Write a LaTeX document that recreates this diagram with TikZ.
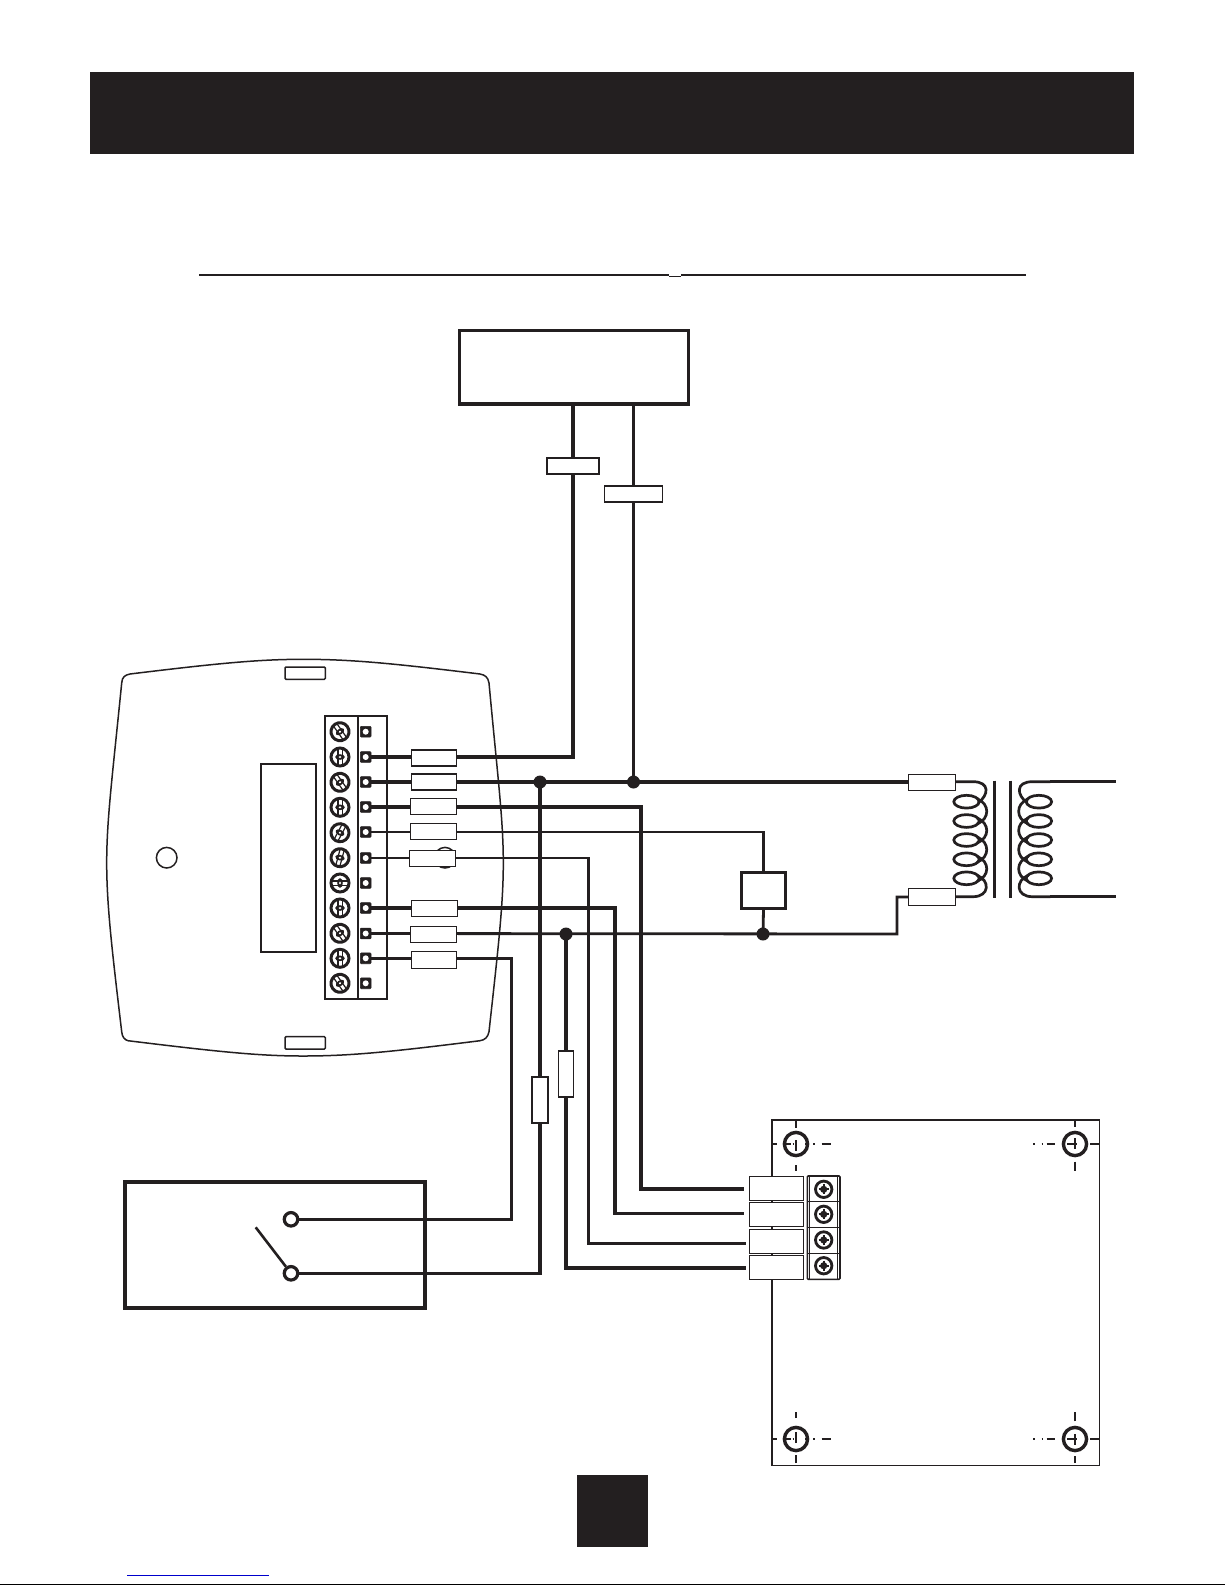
\documentclass[tikz,border=0pt]{standalone}
\definecolor{ink}{HTML}{231F20}
\pgfdeclarelayer{under}
\pgfsetlayers{under,main}
\tikzset{
  every path/.style={color=ink},
  tag/.style={draw=ink,fill=white,line width=1.3pt,inner sep=0pt,minimum width=#1},
  tag/.default=46pt,
  hwire/.style={draw=ink,line width=3.9pt},
  mwire/.style={draw=ink,line width=3.3pt},
  lwire/.style={draw=ink,line width=2.8pt},
  term/.style={rectangle,rounded corners=1pt,fill=ink,draw=ink,line width=0.6pt,minimum size=10.8pt,inner sep=0pt,
     path picture={\fill[white] (path picture bounding box.center) circle[radius=3pt];}},
  junc/.style={circle,fill=ink,inner sep=0pt,minimum size=13pt},
  contact/.style={circle,draw=ink,fill=white,line width=3.2pt,minimum size=13.5pt,inner sep=0pt},
  dashseg/.style={line width=1.7pt,draw=ink},
}
\begin{document}
\begin{tikzpicture}[x=1pt,y=-1pt]
\useasboundingbox (0,0) rectangle (1225,1585);
\begin{pgfonlayer}{under}
  \fill[white] (0,0) rectangle (1225,1585);
\end{pgfonlayer}
% header, rule, page box, footer
\fill[ink] (90,72) rectangle (1134,154);
\draw[ink,line width=2.4pt] (199,275) -- (669,275);
\draw[ink,line width=2.4pt] (681,275) -- (1026,275);
\draw[ink,line width=1pt] (669,276.8) -- (681,276.8);
\fill[ink] (576.5,1475) rectangle (648,1547);
\draw[blue!80!black,line width=1.4pt] (127,1575.3) -- (269,1575.3);
\draw[black,line width=1.6pt] (0,1584.3) -- (1225,1584.3);

% control box
\node[draw=ink,line width=3.8pt,minimum width=229pt,minimum height=73.5pt,inner sep=0pt] (ctl) at (574,367.3) {};
\node[tag=52pt,minimum height=16pt] (tA) at (573,466) {};
\node[tag=58pt,minimum height=16pt] (tB) at (633.5,494) {};

% thermostat base
\begin{pgfonlayer}{under}
\draw[ink,line width=1.5pt] (121.7,683) .. controls (122,677) and (125,675) .. (130,674)
  .. controls (220,663) and (260,659.3) .. (303,659.3)
  .. controls (350,659.3) and (390,663) .. (480,674)
  .. controls (485,675) and (488,677) .. (489,683)
  .. controls (498,780) and (503.3,820) .. (503.3,863)
  .. controls (503.3,905) and (498,950) .. (489,1031.7)
  .. controls (488,1037) and (485,1040) .. (480,1040.7)
  .. controls (390,1052) and (350,1056) .. (303,1056)
  .. controls (260,1056) and (220,1052) .. (128,1040.7)
  .. controls (125,1040) and (122,1037) .. (121.7,1031.7)
  .. controls (112,950) and (106.7,905) .. (106.7,863)
  .. controls (106.7,820) and (112,780) .. (121.7,683) -- cycle;
\draw[ink,line width=1.5pt] (445,857.7) circle[radius=10.3pt];
\draw[ink,line width=1.5pt] (166.7,857.7) circle[radius=10.3pt];
\draw[ink,line width=1.5pt,rounded corners=1pt] (285,667) rectangle (325.3,679.3);
\draw[ink,line width=1.5pt,rounded corners=1pt] (285,1036.7) rectangle (325.3,1049);
\draw[ink,line width=1.7pt] (261,763.7) rectangle (316.3,952);
\draw[ink,line width=1.7pt] (325,716) rectangle (387.3,998.7);
\draw[ink,line width=1.7pt] (358.3,716) -- (358.3,998.7);
% board outline
\draw[ink,line width=1.8pt] (772,1120) rectangle (1099.5,1465.5);
\end{pgfonlayer}

% screws of the thermostat terminal block
\foreach \y/\a in {731.7/35,757/0,782.3/35,807.3/0,832.7/-28,857.7/-15,883/90,908/0,933.3/35,958.3/0,983.3/35}{
  \begin{scope}[shift={(340,\y)},rotate=\a]
    \draw[ink,line width=3pt] (0,0) circle[radius=9pt];
    \draw[ink,line width=1.2pt] (-2.1,-8) -- (-2.1,8) (2.1,-8) -- (2.1,8);
    \fill[ink] (0,0) ellipse[x radius=4.8pt,y radius=2.8pt];
    \fill[white] (0,0) ellipse[x radius=1.4pt,y radius=1.1pt];
  \end{scope}
}
% terminals
\foreach \n/\y in {1/731.7,2/757,3/782,4/807,5/832,6/858,7/883,8/908,9/933.5,10/958.3,11/983.3}{
  \node[term] (t\n) at (365.7,\y) {};
}
% wire tags of the thermostat
\node[tag=45pt,minimum height=16pt] (l2) at (434,758) {};
\node[tag=45pt,minimum height=16pt] (l3) at (434,782) {};
\node[tag,minimum height=16pt] (l4) at (433.5,806.5) {};
\node[tag,minimum height=16pt] (l5) at (433.5,831.5) {};
\node[tag,minimum height=16pt] (l6) at (432.5,858.7) {};
\node[tag,minimum height=16pt] (l8) at (434.7,908.5) {};
\node[tag,minimum height=16pt] (l9) at (433.5,934.7) {};
\node[tag=45pt,minimum height=16.5pt] (l10) at (434,960) {};

% junctions, relay, transformer tags, vertical tags
\node[junc] (j1) at (540,782) {};
\node[junc] (j2) at (633.5,782) {};
\node[junc] (j3) at (763,934) {};
\node[junc] (j4) at (566,934) {};
\node[draw=ink,fill=white,line width=3pt,minimum width=44pt,minimum height=36pt,inner sep=0pt] (rel) at (763.5,890.5) {};
\node[tag=47pt,minimum height=16pt] (ptA) at (932,782.5) {};
\node[tag=47pt,minimum height=16.5pt] (ptB) at (932,897) {};
\node[tag=16pt,minimum height=46pt] (vA) at (540,1100) {};
\node[tag=15.5pt,minimum height=46pt] (vB) at (566,1074) {};

% coils
\newcommand{\coil}{%
  \draw[ink,line width=2.7pt] (955,781.7) -- (973,781.7) .. controls (990,781.7) and (989,795) .. (978,803);
  \foreach \y in {801.7,821,840,859.3,878.3}{
    \draw[ink,line width=2.7pt] (966.5,\y) ellipse[x radius=12.7pt,y radius=6.4pt];
  }
  \foreach \a/\b in {801.7/821,821/840,840/859.3,859.3/878.3}{
    \draw[ink,line width=2.7pt] (977,\a-3) .. controls (990,\a+2) and (990,\b-2) .. (977,\b+3);
  }
  \draw[ink,line width=2.7pt] (977,875.3) .. controls (990,880) and (990,896.7) .. (973,896.7) -- (955,896.7);
}
\coil
\begin{scope}[xshift=2005.4pt,xscale=-1]
  \coil
\end{scope}
\draw[ink,line width=3pt] (994.7,780.7) -- (994.7,898.3);
\draw[ink,line width=2.6pt] (1010.7,780.7) -- (1010.7,898.3);
\coordinate (sA) at (1050,781.7);
\coordinate (sB) at (1050,896.7);
\coordinate (sAe) at (1116,781.7);
\coordinate (sBe) at (1116,896.7);
\draw[mwire] (sA) -- (sAe);
\draw[mwire] (sB) -- (sBe);

% switch box
\node[draw=ink,line width=3.6pt,minimum width=300pt,minimum height=126.5pt,inner sep=0pt] (swb) at (275,1245) {};
\node[contact] (c1) at (291,1219.3) {};
\node[contact] (c2) at (291,1273.3) {};
\coordinate (lever) at (255.7,1227.3);
\draw[ink,line width=2.6pt] (lever) -- (c2);

% relay board
\foreach \p/\q/\sy in {796/1144/1,796/1439/-1}{
  \begin{scope}[shift={(\p,\q)},yscale=\sy]
    \foreach \a/\b in {-24.3/-19.3,-13.3/-5.3,-3.3/-1.7,9/13,17.3/19,25.7/34.7}{
      \draw[dashseg] (\a,0) -- (\b,0);
    }
    \foreach \a/\b in {-24/-16,-4/6.7,21/26.7}{
      \draw[dashseg] (0,\a) -- (0,\b);
    }
    \draw[ink,line width=3.4pt] (0,0) circle[radius=11.6pt];
  \end{scope}
}
\foreach \p/\q/\sy in {1075/1144/1,1075/1439/-1}{
  \begin{scope}[shift={(\p,\q)},yscale=\sy]
    \foreach \a/\b in {-41.7/-40,-33.3/-31.7,-28.3/-20,-7.7/1.7,15/24.5}{
      \draw[dashseg] (\a,0) -- (\b,0);
    }
    \foreach \a/\b in {-24/-17.3,-5.7/5.3,17.7/26.7}{
      \draw[dashseg] (0,\a) -- (0,\b);
    }
    \draw[ink,line width=3.4pt] (0,0) circle[radius=11.6pt];
  \end{scope}
}
% board terminal strip
\draw[ink,line width=1.6pt,rounded corners=1pt] (807.3,1176) rectangle (840,1279.3);
\draw[ink,line width=1.2pt] (809.6,1176) -- (809.6,1279.3) (837.5,1176) -- (837.5,1279.3);
\draw[ink,line width=1.4pt] (807.3,1201.7) -- (840,1201.7) (807.3,1227.3) -- (840,1227.3) (807.3,1253.3) -- (840,1253.3);
\foreach \y in {1189.3,1214.3,1240,1265.7}{
  \draw[ink,line width=2.8pt] (823.7,\y) circle[radius=8.2pt];
  \fill[ink] (823.7,\y) circle[radius=3.6pt];
  \draw[ink,line width=2pt] (818.7,\y) -- (828.7,\y) (823.7,\y-5) -- (823.7,\y+5);
}
\node[tag=54.4pt,minimum height=24pt] (b1) at (776.5,1188.3) {};
\node[tag=54.4pt,minimum height=24pt] (b2) at (776.5,1214.3) {};
\node[tag=54.4pt,minimum height=24pt] (b3) at (776.5,1241.3) {};
\node[tag=54.4pt,minimum height=24pt] (b4) at (776.5,1267.3) {};

% wires
\coordinate (ctlA) at (573,404);
\coordinate (ctlB) at (633.5,404);
\coordinate (r4) at (641,1000);
\coordinate (r6) at (615,1000);
\coordinate (r5) at (588.5,1000);
\coordinate (r7a) at (897,934);
\coordinate (r10) at (511.7,1100);
\coordinate (e1) at (744,1189);
\coordinate (e2) at (744,1213.5);
\coordinate (e3) at (746,1243.7);
\coordinate (e4) at (746,1268);
\begin{pgfonlayer}{under}
  \draw[hwire] (t2.center) -| (ctlA);
  \draw[hwire] (ctlB) -- (j2.center);
  \draw[hwire] (t3.center) -- (ptA.center |- t3.center);
  \draw[hwire] (t4.center) -| (r4) |- (e1);
  \draw[lwire] (t5.center) -| (rel.north);
  \draw[lwire] (rel.south) -- (j3.center);
  \draw[lwire] (t6.center) -| (r5) |- (e3);
  \draw[mwire] (t8.center) -| (r6) |- (e2);
  \draw[lwire] (t9.center) -- (r7a) -- (r7a |- ptB.center) -- (ptB.center);
  \draw[mwire] (t10.center) -| (r10) |- (c1);
  \draw[mwire] (j1.center) |- (c2);
  \draw[mwire] (j4.center) |- (e4);
\end{pgfonlayer}
\end{tikzpicture}
\end{document}
